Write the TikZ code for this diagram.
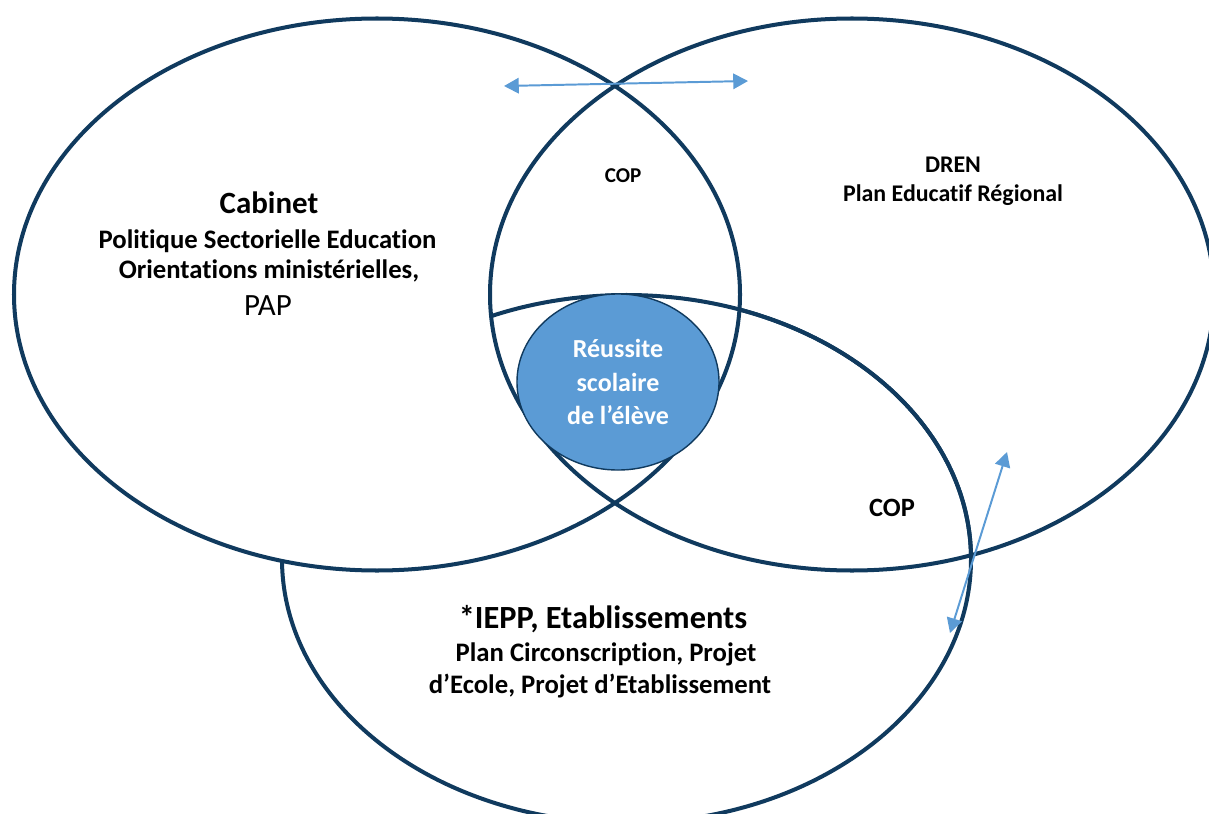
\documentclass[tikz,border=0pt]{standalone}
\usepackage{fontspec}
\setmainfont{Carlito}[Ligatures=NoCommon]
\usetikzlibrary{arrows.meta,positioning,shapes.geometric}

\definecolor{navy}{RGB}{16,58,94}
\definecolor{skyblue}{RGB}{91,155,213}

\newcommand{\fs}[1]{\fontsize{#1}{#1}\selectfont}

\tikzset{
  ring/.style={draw=navy,line width=2.85pt},
  lbl/.style={inner sep=0pt,anchor=base},
  link/.style={draw=skyblue,line width=1.4pt,
    {Triangle[length=10.5pt,width=11pt]}-{Triangle[length=10.5pt,width=11pt]}}
}

\begin{document}
\begin{tikzpicture}[x=0.025cm,y=-0.025cm]
\useasboundingbox (0,0) rectangle (1209,814);

% centres of the three sets
\coordinate (cab) at (377,294.5);
\coordinate (dren) at (852,294.5);
\coordinate (iepp) at (626.5,559);

% lower set, partly hidden behind the left one
\draw[ring] (iepp) ellipse [x radius=344.5,y radius=264];
\fill[white] (cab) ellipse [x radius=363,y radius=276];
\begin{scope}
\clip (dren) ellipse [x radius=362,y radius=276];
\draw[ring] (iepp) ellipse [x radius=344.5,y radius=264];
\end{scope}
\draw[ring] (cab) ellipse [x radius=363,y radius=276];
\draw[ring] (dren) ellipse [x radius=362,y radius=276];

% centre
\node[ellipse,fill=skyblue,draw=navy,line width=1pt,inner sep=0pt,
  minimum width=5.05cm,minimum height=4.4cm,text=white,align=center,
  font=\bfseries\fontsize{18.5}{23.5}\selectfont] (core) at (618,382)
  {R\'eussite\\scolaire\\de l’\'el\`eve};

% left set
\node[lbl,font=\bfseries\fs{22}] (cabinet) at (269,213) {Cabinet};
\node[lbl,font=\bfseries\fs{19}] (polit) at (267.5,248) {Politique Sectorielle Education};
\node[lbl,font=\bfseries\fs{19}] (orient) at (269,278) {Orientations minist\'erielles,};
\node[lbl,font=\fs{22}] (pap) at (268,315) {PAP};

% right set
\node[lbl,font=\bfseries\fs{17}] (drenname) at (953,172.5) {DREN};
\node[lbl,font=\bfseries\fs{17}] (per) at (953,201.5) {Plan Educatif R\'egional};

% lower set
\node[lbl,font=\bfseries\fs{23}] (ieppname) at (603,628) {*IEPP, Etablissements};
\node[lbl,font=\bfseries\fs{19}] (circ) at (606,661) {Plan Circonscription, Projet};
\node[lbl,font=\bfseries\fs{19}] (ecole) at (600,693.5) {d’Ecole, Projet d’Etablissement};

% overlaps
\node[lbl,font=\bfseries\fs{15}] (copup) at (623,182.5) {COP};
\node[lbl,font=\bfseries\fs{18.8}] (copdown) at (892,516) {COP};

% exchanges
\coordinate (west) at (504,86);
\coordinate (east) at (748,81);
\draw[link] (west) -- (east);
\coordinate (north) at (1007,452);
\coordinate (south) at (950,633);
\draw[link] (north) -- (south);
\end{tikzpicture}
\end{document}
